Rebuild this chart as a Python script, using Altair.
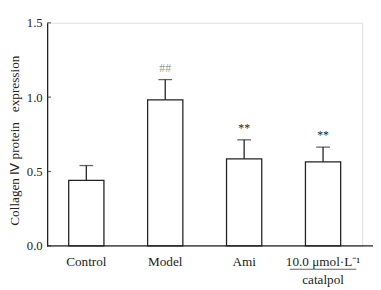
import altair as alt
import pandas as pd

groups = ["Control", "Model", "Ami", "10.0 μmol·L⁻¹|catalpol"]
means = [0.44, 0.982, 0.585, 0.564]
err_tops = [0.54, 1.118, 0.713, 0.664]
marks = ["", "##", "**", "**"]
mark_colors = ["#222222", "#999999", "#222222", "#222222"]
y_ticks = [0.0, 0.5, 1.0, 1.5]

df = pd.DataFrame({"group": groups, "mean": means, "err": err_tops,
                   "mark": marks, "mcolor": mark_colors})
ticks_df = pd.DataFrame({"v": y_ticks})

FONT = "Liberation Serif"
W, H = 322, 228
NB = "\u00a0"

xenc = alt.X("group:N", sort=groups,
             scale=alt.Scale(paddingInner=0.553, paddingOuter=0.273),
             axis=alt.Axis(title=None, domain=False, ticks=False, labelAngle=0,
                           labelFont=FONT, labelFontSize=13.5, labelColor="#222",
                           labelPadding=9, labelLineHeight=18,
                           labelExpr="split(datum.label, '|')"))
yscale = alt.Scale(domain=[0, 1.5], nice=False, zero=True)

bars = alt.Chart(df).mark_bar(fill="white", stroke="#222", strokeWidth=1.3, size=36).encode(
    x=xenc,
    y=alt.Y("mean:Q", scale=yscale,
            axis=alt.Axis(title=f"Collagen Ⅳ protein{NB}{NB}{NB}expression", values=y_ticks,
                          format=".1f", tickSize=0, labelPadding=5, grid=False,
                          domainColor="#222", domainWidth=1.3,
                          labelFont=FONT, labelFontSize=13, labelColor="#222",
                          titleFont=FONT, titleFontSize=13.5, titleFontWeight="normal",
                          titleColor="#222", titleX=-33, titleY=H / 2 + 6,
                          titleAngle=-90, titleBaseline="middle", titleAlign="center")),
)

err_line = alt.Chart(df).mark_rule(color="#222", strokeWidth=1.3).encode(
    x=alt.X("group:N", sort=groups), y="mean:Q", y2="err:Q")
err_cap = alt.Chart(df).mark_tick(color="#222", thickness=1.3, size=14, orient="horizontal").encode(
    x=alt.X("group:N", sort=groups), y="err:Q")

labels = alt.Chart(df).mark_text(font=FONT, fontSize=12, baseline="middle", dy=-12).encode(
    x=alt.X("group:N", sort=groups), y="err:Q", text="mark:N",
    color=alt.Color("mcolor:N", scale=None))

yticks = alt.Chart(ticks_df).mark_tick(color="#222", thickness=1.2, size=4, orient="horizontal").encode(
    y=alt.Y("v:Q", scale=yscale), x=alt.value(2))

xaxis_line = alt.Chart(ticks_df.head(1)).mark_rule(color="#222", strokeWidth=1.3).encode(
    x=alt.value(0), x2=alt.value(W + 11), y=alt.value(H))

frac_line = alt.Chart(df.tail(1)).mark_tick(color="#222", thickness=1, size=68, orient="horizontal").encode(
    x=alt.X("group:N", sort=groups), y=alt.value(H + 24))

chart = alt.layer(bars, err_line, err_cap, labels, yticks, xaxis_line, frac_line).properties(
    width=W, height=H,
    autosize=alt.AutoSizeParams(type="none"),
    padding={"left": 40, "top": 12, "right": 11, "bottom": 42},
).configure_view(stroke=None).configure(background="white")

chart.save("out.html", embed_options={"renderer": "svg", "actions": False})
